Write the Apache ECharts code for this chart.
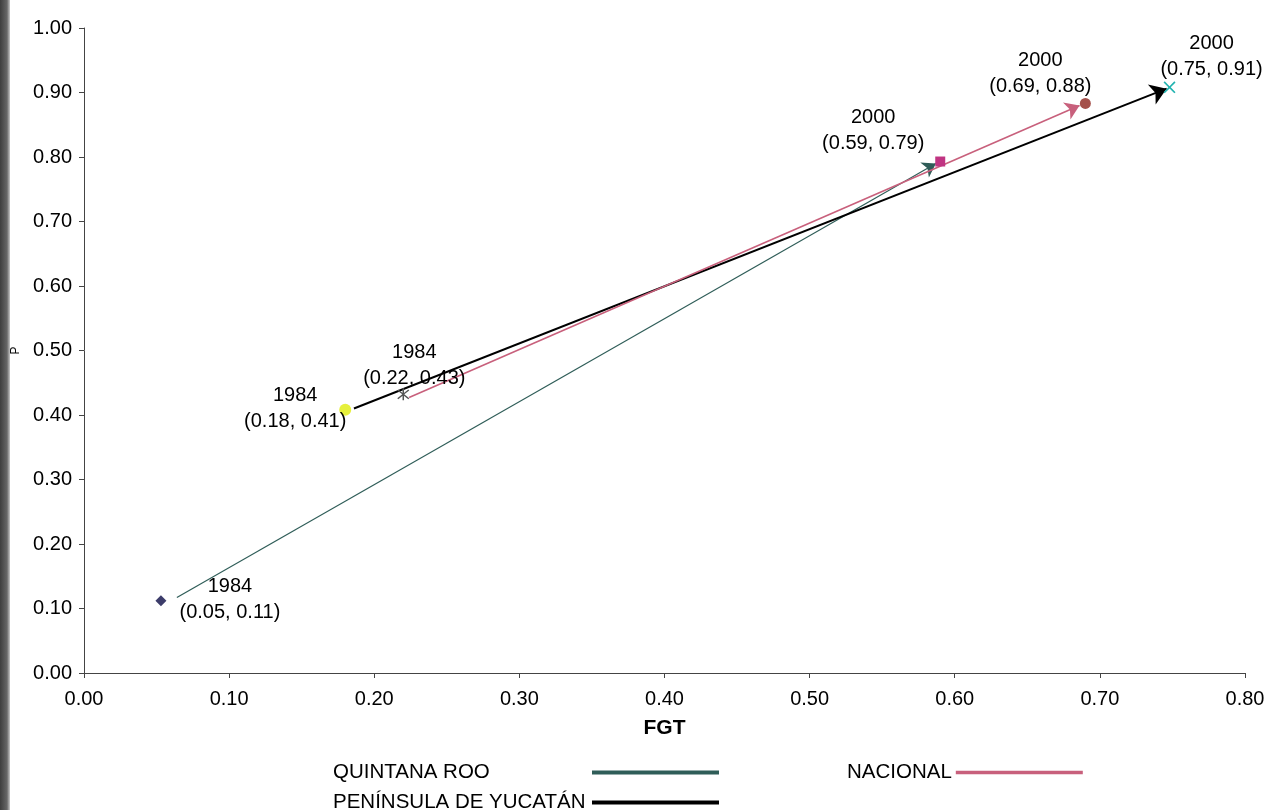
<!DOCTYPE html>
<html>
<head>
<meta charset="utf-8">
<script src="https://cdn.jsdelivr.net/npm/echarts@6/dist/echarts.min.js"></script>
<style>html,body{margin:0;padding:0;background:#fff}#c{width:1270px;height:810px}</style>
</head>
<body>
<div id="c"></div>
<script>
// ---- data ----
const seriesNames = ['QUINTANA ROO', 'PENÍNSULA DE YUCATÁN', 'NACIONAL'];
const years = ['1984', '2000'];
// points [FGT, P] for 1984 and 2000
const quintanaRoo = [[0.053, 0.112], [0.590, 0.793]];
const yucatan = [[0.180, 0.408], [0.748, 0.908]];
const nacional = [[0.220, 0.432], [0.690, 0.883]];
// arrow segments (start, end) as drawn in the figure
const quintanaRooArrow = [[0.064, 0.117], [0.587, 0.790]];
const yucatanArrow = [[0.186, 0.410], [0.746, 0.906]];
const nacionalArrow = [[0.224, 0.427], [0.686, 0.880]];
const xTicks = ['0.00','0.10','0.20','0.30','0.40','0.50','0.60','0.70','0.80'];
const yTicks = ['0.00','0.10','0.20','0.30','0.40','0.50','0.60','0.70','0.80','0.90','1.00'];

// ---- styles ----
const FONT = 'Liberation Sans, Arial, sans-serif';
const lineColors = ['#2f5d58', '#000000', '#c8607c'];
const lineWidths = [1.2, 2, 1.6];
const arrowSizes = [13, 16, 14];
const xPath = 'path://M1,0 L5,4 L9,0 L10,1 L6,5 L10,9 L9,10 L5,6 L1,10 L0,9 L4,5 L0,1 Z';
const starPath = 'path://M1,1 L5,4.2 L9,1 L9.8,1.8 L5.8,5 L9.8,8.2 L9,9 L5,5.8 L1,9 L0.2,8.2 L4.2,5 L0.2,1.8 Z M4.4,0 L5.6,0 L5.6,10 L4.4,10 Z';
// marker style per (series, year)
const markerStyles = [
  [{symbol:'diamond', size:11, color:'#3c3c6a', off:[69, -1]},
   {symbol:'rect', size:10, color:'#c03482', off:[-67, -31]}],
  [{symbol:'circle', size:12, color:'#e6f03c', off:[-50, -1]},
   {symbol:xPath, size:12, color:'#22b3b0', off:[42, -31]}],
  [{symbol:starPath, size:12, color:'#555555', off:[11, -29]},
   {symbol:'circle', size:11, color:'#a4504a', off:[-45, -30]}]
];

const pointSets = [quintanaRoo, yucatan, nacional];
const arrowSets = [quintanaRooArrow, yucatanArrow, nacionalArrow];

const scatterData = [];
pointSets.forEach((pts, si) => {
  pts.forEach((p, yi) => {
    const st = markerStyles[si][yi];
    scatterData.push({
      value: p,
      symbol: st.symbol,
      symbolSize: st.size,
      itemStyle: {color: st.color, opacity: 1},
      label: {
        show: true,
        position: 'inside',
        offset: st.off,
        formatter: years[yi] + '\n(' + p[0].toFixed(2) + ', ' + p[1].toFixed(2) + ')',
        color: '#000',
        opacity: 1,
        textBorderWidth: 0,
        textBorderColor: 'transparent',
        fontFamily: FONT,
        fontSize: 20,
        lineHeight: 26,
        align: 'center',
        verticalAlign: 'middle'
      }
    });
  });
});

const series = arrowSets.map((seg, si) => ({
  name: seriesNames[si],
  type: 'lines',
  coordinateSystem: 'cartesian2d',
  silent: true,
  symbol: ['none', 'arrow'],
  symbolSize: arrowSizes[si],
  lineStyle: {color: lineColors[si], width: lineWidths[si], opacity: 1, curveness: 0},
  itemStyle: {color: lineColors[si]},
  data: [{coords: seg}],
  z: 2
}));
series.push({
  name: 'puntos',
  type: 'scatter',
  silent: true,
  itemStyle: {opacity: 1},
  data: scatterData,
  z: 3
});

const legendText = {fontFamily: FONT, fontSize: 20.5, lineHeight: 19, color: '#000'};

const chart = echarts.init(document.getElementById('c'), null, {renderer: 'canvas'});
chart.setOption({
  animation: false,
  backgroundColor: '#ffffff',
  graphic: [{
    type: 'rect', left: 0, top: 0, z: -1,
    shape: {width: 10, height: 810},
    style: {fill: new echarts.graphic.LinearGradient(0, 0, 1, 0, [
      {offset: 0, color: '#3e3e3e'}, {offset: 0.7, color: '#666666'}, {offset: 1, color: '#c8c8c8'}])}
  }],
  grid: {left: 84, right: 25, top: 28, bottom: 137, containLabel: false, outerBoundsMode: 'none'},
  xAxis: {
    type: 'value', min: 0, max: 0.8, interval: 0.1,
    name: 'FGT', nameLocation: 'middle', nameGap: 45, nameMoveOverlap: false,
    nameTextStyle: {fontFamily: FONT, fontSize: 21, fontWeight: 'bold', color: '#000', verticalAlign: 'top'},
    axisLine: {show: true, lineStyle: {color: '#444', width: 1}},
    axisTick: {show: true, length: 5, lineStyle: {color: '#444'}},
    axisLabel: {margin: 16, fontFamily: FONT, fontSize: 20, color: '#000',
      formatter: (v) => xTicks[Math.round(v * 10)]},
    splitLine: {show: false}
  },
  yAxis: {
    type: 'value', min: 0, max: 1, interval: 0.1,
    name: 'P', nameLocation: 'middle', nameGap: 62, nameRotate: 90, nameMoveOverlap: false,
    nameTextStyle: {fontFamily: FONT, fontSize: 12, color: '#000'},
    axisLine: {show: true, lineStyle: {color: '#444', width: 1}},
    axisTick: {show: true, length: 5, lineStyle: {color: '#444'}},
    axisLabel: {margin: 12, fontFamily: FONT, fontSize: 20, color: '#000',
      formatter: (v) => yTicks[Math.round(v * 10)]},
    splitLine: {show: false}
  },
  legend: [{
    data: [
      {name: seriesNames[0], itemStyle: {color: lineColors[0]}},
      {name: seriesNames[1], itemStyle: {color: lineColors[1]}}
    ],
    orient: 'vertical', left: 333, top: 762, height: 60, padding: 0, itemGap: 9,
    align: 'right', icon: 'rect', itemWidth: 125, itemHeight: 1.8,
    formatter: (name) => '{t|' + name + '}',
    textStyle: Object.assign({}, legendText, {
      rich: {t: Object.assign({}, legendText, {width: 255, align: 'left'})}
    }),
    selectedMode: false
  }, {
    data: [{name: seriesNames[2], itemStyle: {color: lineColors[2]}}],
    left: 847, top: 762, padding: 0,
    align: 'right', icon: 'rect', itemWidth: 125, itemHeight: 1.6,
    textStyle: legendText,
    selectedMode: false
  }],
  series: series
});
</script>
</body>
</html>
